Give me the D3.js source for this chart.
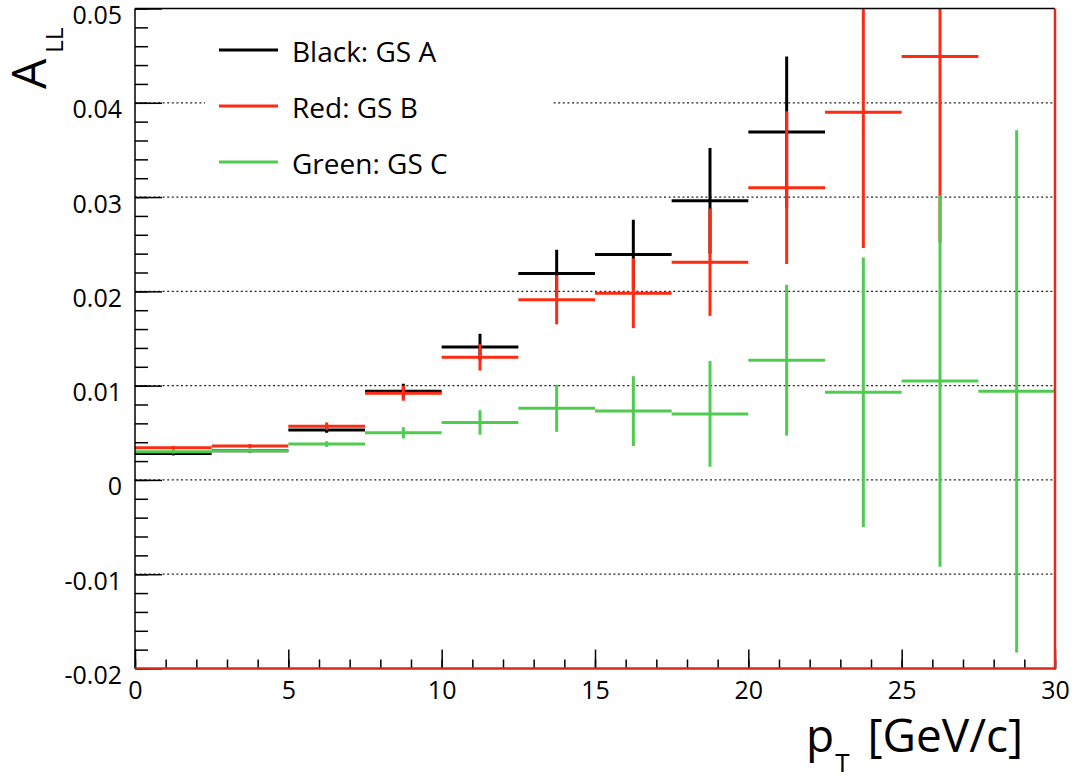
<!DOCTYPE html>
<html>
<head>
<meta charset="utf-8">
<script src="https://cdn.jsdelivr.net/npm/d3@7"></script>
<style>
  html, body { margin: 0; padding: 0; background: #fff; }
  svg { display: block; }
  text { font-family: "Open Sans", "DejaVu Sans", sans-serif; fill: #000; }
</style>
</head>
<body>
<svg id="chart" width="1074" height="780"></svg>
<script>
// pT bins [GeV/c]: lower and upper edges
const binLow  = [0, 2.5, 5, 7.5, 10, 12.5, 15, 17.5, 20, 22.5, 25, 27.5];
const binHigh = [2.5, 5, 7.5, 10, 12.5, 15, 17.5, 20, 22.5, 25, 27.5, 30];

// A_LL per bin for each gluon-polarisation scenario, with its statistical error
const gsA    = [0.0028, 0.0031, 0.0053, 0.0094, 0.0141, 0.0219, 0.0239, 0.0296, 0.0369];
const gsAErr = [0.0002, 0.0002, 0.0003, 0.0008, 0.0014, 0.0025, 0.0037, 0.0056, 0.0080];
const gsB    = [0.0034, 0.0036, 0.0057, 0.0092, 0.0130, 0.0191, 0.0198, 0.0231, 0.0310, 0.0390, 0.0449];
const gsBErr = [0.0002, 0.0002, 0.0004, 0.0008, 0.0014, 0.0026, 0.0037, 0.0057, 0.0081, 0.0144, 0.0197];
const gsC    = [0.0030, 0.0031, 0.0038, 0.0050, 0.0061, 0.0076, 0.0073, 0.0070, 0.0127, 0.0093, 0.0105, 0.0094];
const gsCErr = [0.0002, 0.0002, 0.0003, 0.0006, 0.0013, 0.0025, 0.0037, 0.0056, 0.0080, 0.0143, 0.0197, 0.0277];

const seriesNames  = ["Black: GS A", "Red: GS B", "Green: GS C"];
const seriesColors = ["#000000", "#ff2a12", "#4fcc4f"];

// axis ticks
const yMajor = [-0.02, -0.01, 0, 0.01, 0.02, 0.03, 0.04, 0.05];
const yGrid  = [-0.01, 0, 0.01, 0.02, 0.03, 0.04];
const xMajor = [0, 5, 10, 15, 20, 25, 30];

const svg = d3.select("#chart");
const frameL = 135, frameR = 1055, frameT = 8.5, frameB = 668.5;

const x = d3.scaleLinear().domain([0, 30]).range([frameL, frameR]);
const y = d3.scaleLinear().domain([-0.02, 0.05]).range([frameB, frameT]);

// dotted horizontal grid
svg.append("g").selectAll("line").data(yGrid).join("line")
  .attr("x1", frameL).attr("x2", frameR)
  .attr("y1", d => y(d)).attr("y2", d => y(d))
  .attr("stroke", "#222").attr("stroke-width", 1.3)
  .attr("stroke-dasharray", "2 2.6");

// data: horizontal bar over each bin plus vertical error bar at bin centre
svg.append("clipPath").attr("id", "plotClip")
  .append("rect").attr("x", frameL).attr("y", frameT)
  .attr("width", frameR - frameL).attr("height", frameB - frameT);

const seriesData = [[gsA, gsAErr], [gsB, gsBErr], [gsC, gsCErr]];
const dataLayer = svg.append("g").attr("clip-path", "url(#plotClip)");
seriesData.forEach(([vals, errs], si) => {
  const pts = vals.map((v, i) => ({ lo: binLow[i], hi: binHigh[i], v, e: errs[i] }));
  const g = dataLayer.append("g").attr("stroke", seriesColors[si]).attr("stroke-width", 3);
  g.selectAll("line.h").data(pts).join("line").attr("class", "h")
    .attr("x1", d => x(d.lo)).attr("x2", d => x(d.hi))
    .attr("y1", d => y(d.v)).attr("y2", d => y(d.v));
  g.selectAll("line.v").data(pts).join("line").attr("class", "v")
    .attr("x1", d => x((d.lo + d.hi) / 2)).attr("x2", d => x((d.lo + d.hi) / 2))
    .attr("y1", d => y(d.v - d.e)).attr("y2", d => y(d.v + d.e));
});

// y axis: ticks point into the frame
const yMinorAxis = d3.axisLeft(y).tickValues(d3.range(-0.02, 0.0501, 0.002))
  .tickSizeInner(-13).tickSizeOuter(0).tickFormat("");
const yMajorAxis = d3.axisLeft(y).tickValues(yMajor)
  .tickSizeInner(-27).tickSizeOuter(0).tickPadding(13)
  .tickFormat(d => Math.abs(d) < 1e-9 ? "0" : d.toFixed(2));

const gyMinor = svg.append("g").attr("transform", `translate(${frameL},0)`).call(yMinorAxis);
const gy = svg.append("g").attr("transform", `translate(${frameL},0)`).call(yMajorAxis);
[gyMinor, gy].forEach(g => {
  g.selectAll(".domain").remove();
  g.selectAll(".tick line").attr("stroke", "#000").attr("stroke-width", 1.5);
});
gy.selectAll(".tick text").attr("font-size", 25).attr("dy", "0.6em")
  .attr("font-family", "'Open Sans', sans-serif");

// x axis
const xMinorAxis = d3.axisBottom(x).tickValues(d3.range(0, 31, 1))
  .tickSizeInner(-9).tickSizeOuter(0).tickFormat("");
const xMajorAxis = d3.axisBottom(x).tickValues(xMajor)
  .tickSizeInner(-19).tickSizeOuter(0).tickPadding(13).tickFormat(d3.format("d"));
const gxMinor = svg.append("g").attr("transform", `translate(0,${frameB})`).call(xMinorAxis);
const gx = svg.append("g").attr("transform", `translate(0,${frameB})`).call(xMajorAxis);
[gxMinor, gx].forEach(g => {
  g.selectAll(".domain").remove();
  g.selectAll(".tick line").attr("stroke", "#000").attr("stroke-width", 1.5);
});
gx.selectAll(".tick text").attr("font-size", 25)
  .attr("font-family", "'Open Sans', sans-serif");

// frame
svg.append("line").attr("x1", frameL).attr("x2", frameR).attr("y1", frameT).attr("y2", frameT)
  .attr("stroke", "#000").attr("stroke-width", 1.3);
svg.append("line").attr("x1", frameL).attr("x2", frameL).attr("y1", frameT).attr("y2", frameB)
  .attr("stroke", "#000").attr("stroke-width", 1.5);
svg.append("line").attr("x1", frameR).attr("x2", frameR).attr("y1", frameT).attr("y2", frameB + 1)
  .attr("stroke", "#e8281a").attr("stroke-width", 2.5);
svg.append("line").attr("x1", frameL).attr("x2", frameR + 1).attr("y1", frameB).attr("y2", frameB)
  .attr("stroke", "#d42a1a").attr("stroke-width", 2.5);

// legend
const legend = svg.append("g");
legend.append("rect").attr("x", 205).attr("y", 24).attr("width", 348).attr("height", 166)
  .attr("fill", "#fff");
const legendRows = [50, 106, 162];
seriesNames.forEach((name, i) => {
  legend.append("line").attr("x1", 219).attr("x2", 278)
    .attr("y1", legendRows[i]).attr("y2", legendRows[i])
    .attr("stroke", seriesColors[i]).attr("stroke-width", 3);
  legend.append("text").attr("x", 292).attr("y", legendRows[i] + 2).attr("dy", "0.36em")
    .attr("font-size", 28).text(name);
});

// axis titles
const yTitle = svg.append("text").attr("transform", "translate(46,89) rotate(-90)");
yTitle.append("tspan").attr("font-size", 48).text("A");
yTitle.append("tspan").attr("font-size", 24).attr("dx", 6).attr("dy", 17).text("LL");

const xTitle = svg.append("text").attr("x", 806).attr("y", 752);
xTitle.append("tspan").attr("font-size", 46).text("p");
xTitle.append("tspan").attr("font-size", 26).attr("dx", 1).attr("dy", 20).text("T");
xTitle.append("tspan").attr("font-size", 46).attr("dx", 6).attr("dy", -20).text(" [GeV/c]");
</script>
</body>
</html>
